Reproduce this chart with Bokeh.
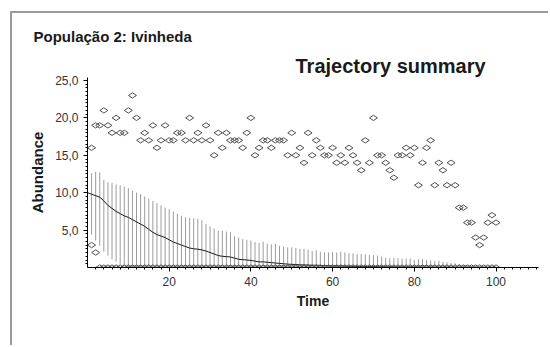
import numpy as np
from bokeh.plotting import figure
from bokeh.models import FixedTicker, Title, ColumnDataSource
from bokeh.embed import file_html
from bokeh.resources import INLINE

# ---------------- data ----------------
time_mean = list(range(0, 101))
mean_abundance = [
    10.0, 9.8, 9.6, 9.4, 8.9, 8.3, 7.9, 7.5, 7.2, 6.9,
    6.7, 6.4, 6.1, 5.8, 5.5, 5.1, 4.7, 4.4, 4.2, 4.0,
    3.7, 3.4, 3.2, 3.0, 2.8, 2.6, 2.5, 2.45, 2.35, 2.2,
    2.0, 1.8, 1.6, 1.5, 1.45, 1.4, 1.25, 1.1, 1.05, 1.0,
    0.95, 0.85, 0.75, 0.75, 0.7, 0.65, 0.6, 0.55, 0.5, 0.45,
    0.42, 0.4, 0.35, 0.35, 0.33, 0.3, 0.3, 0.28, 0.25, 0.22,
    0.22, 0.2, 0.2, 0.18, 0.17, 0.16, 0.15, 0.14, 0.13, 0.12,
    0.11, 0.1, 0.09, 0.08, 0.07, 0.07, 0.06, 0.06, 0.05, 0.05,
    0.04, 0.04, 0.03, 0.03, 0.03, 0.02, 0.02, 0.02, 0.02, 0.01,
    0.01, 0.01, 0.01, 0.01, 0.0, 0.0, 0.0, 0.0, 0.0, 0.0, 0.0,
]

time_steps = list(range(1, 101))
bar_upper = [
    12.6, 12.8, 12.7, 11.7, 11.4, 11.3, 11.1, 11.0, 10.8, 10.6,
    10.3, 10.0, 9.8, 9.5, 9.2, 8.9, 8.6, 8.3, 8.0, 7.8,
    7.5, 7.2, 6.9, 6.7, 6.6, 6.6, 6.5, 6.3, 5.8, 5.5,
    5.2, 4.9, 4.9, 4.8, 4.7, 4.2, 4.0, 3.8, 3.7, 3.6,
    3.4, 3.3, 3.45, 3.2, 3.1, 3.15, 2.9, 2.8, 2.7, 2.7,
    2.6, 2.5, 2.5, 2.4, 2.2, 2.3, 2.1, 2.0, 2.0, 2.1,
    2.0, 2.1, 2.0, 1.9, 1.9, 1.8, 1.8, 1.75, 1.7, 1.65,
    1.6, 1.45, 1.3, 1.25, 1.25, 1.25, 1.2, 1.2, 1.2, 1.0,
    1.1, 1.1, 1.0, 0.95, 0.9, 0.9, 0.75, 0.7, 0.6, 0.55,
    0.45, 0.3, 0.25, 0.2, 0.2, 0.15, 0.15, 0.1, 0.1, 0.05,
]
bar_lower = [
    4.4, 3.6, 2.9, 2.1, 1.6, 1.1, 0.8, 0.5, 0.2, 0.0,
    0.0, 0.0, 0.0, 0.0, 0.0, 0.0, 0.0, 0.0, 0.0, 0.0,
    0.0, 0.0, 0.0, 0.0, 0.0, 0.0, 0.0, 0.0, 0.0, 0.0,
    0.0, 0.0, 0.0, 0.0, 0.0, 0.0, 0.0, 0.0, 0.0, 0.0,
    0.0, 0.0, 0.0, 0.0, 0.0, 0.0, 0.0, 0.0, 0.0, 0.0,
    0.0, 0.0, 0.0, 0.0, 0.0, 0.0, 0.0, 0.0, 0.0, 0.0,
    0.0, 0.0, 0.0, 0.0, 0.0, 0.0, 0.0, 0.0, 0.0, 0.0,
    0.0, 0.0, 0.0, 0.0, 0.0, 0.0, 0.0, 0.0, 0.0, 0.0,
    0.0, 0.0, 0.0, 0.0, 0.0, 0.0, 0.0, 0.0, 0.0, 0.0,
    0.0, 0.0, 0.0, 0.0, 0.0, 0.0, 0.0, 0.0, 0.0, 0.0,
]
max_abundance = [
    16, 19, 19, 21, 19, 18, 20, 18, 18, 21,
    23, 20, 17, 18, 17, 19, 16, 17, 19, 17,
    17, 18, 18, 17, 20, 17, 18, 17, 19, 17,
    15, 18, 16, 18, 17, 17, 17, 16, 18, 20,
    15, 16, 17, 17, 16, 17, 17, 17, 15, 18,
    15, 16, 14, 18, 15, 17, 16, 15, 15, 16,
    14, 15, 14, 16, 15, 14, 13, 17, 14, 20,
    15, 15, 14, 13, 12, 15, 15, 16, 15, 16,
    11, 14, 16, 17, 11, 14, 13, 11, 14, 11,
    8, 8, 6, 6, 4, 3, 4, 6, 7, 6,
]
min_abundance = [
    3, 2, 0, 0, 0, 0, 0, 0, 0, 0,
    0, 0, 0, 0, 0, 0, 0, 0, 0, 0,
    0, 0, 0, 0, 0, 0, 0, 0, 0, 0,
    0, 0, 0, 0, 0, 0, 0, 0, 0, 0,
    0, 0, 0, 0, 0, 0, 0, 0, 0, 0,
    0, 0, 0, 0, 0, 0, 0, 0, 0, 0,
    0, 0, 0, 0, 0, 0, 0, 0, 0, 0,
    0, 0, 0, 0, 0, 0, 0, 0, 0, 0,
    0, 0, 0, 0, 0, 0, 0, 0, 0, 0,
    0, 0, 0, 0, 0, 0, 0, 0, 0, 0,
]

x_major_ticks = [20, 40, 60, 80, 100]
y_major_ticks = [5, 10, 15, 20, 25]
y_tick_labels = ["5,0", "10,0", "15,0", "20,0", "25,0"]

# ---------------- figure ----------------
p = figure(
    width=538, height=334,
    x_range=(0, 110.4), y_range=(0, 25.4),
    output_backend="svg", toolbar_location=None,
    min_border_left=75, min_border_right=12,
    min_border_top=64, min_border_bottom=80,
    title=None,
)
p.styles = {
    "margin-top": "11px", "margin-left": "10px",
    "border-top": "2px solid #9a9a9a", "border-left": "2px solid #9a9a9a",
}
p.outline_line_color = None
p.xgrid.visible = False
p.ygrid.visible = False
p.background_fill_color = "white"
p.border_fill_color = "white"

bars = ColumnDataSource(dict(t=time_steps, lo=bar_lower, hi=bar_upper))
p.segment(x0="t", y0="lo", x1="t", y1="hi", source=bars,
          line_color="#9c9c9c", line_width=1)
p.line(time_mean, mean_abundance, line_color="#1a1a1a", line_width=1)
p.scatter(time_steps, max_abundance, marker="diamond", size=8, angle=np.pi / 2,
          fill_alpha=0, line_color="#505050", line_width=1)
p.scatter(time_steps, min_abundance, marker="diamond", size=8, angle=np.pi / 2,
          fill_alpha=0, line_color="#505050", line_width=1)

# axes
xa = p.xaxis[0]
xa.ticker = FixedTicker(ticks=x_major_ticks, minor_ticks=list(range(2, 111, 2)))
xa.axis_label = "Time"
ya = p.yaxis[0]
ya.ticker = FixedTicker(ticks=y_major_ticks,
                        minor_ticks=[v / 2 for v in range(1, 51)])
ya.major_label_overrides = {float(k): s for k, s in zip(y_major_ticks, y_tick_labels)}
ya.axis_label = "Abundance"

for ax in (xa, ya):
    ax.axis_line_color = "black"
    ax.major_tick_line_color = "black"
    ax.minor_tick_line_color = "black"
    ax.major_tick_out = 4
    ax.major_tick_in = 0
    ax.minor_tick_out = 2
    ax.minor_tick_in = 0
    ax.major_label_text_font = "Liberation Sans"
    ax.major_label_text_font_size = "12px"
    ax.major_label_text_color = "#333333"
    ax.major_label_standoff = 5
    ax.axis_label_text_font = "Liberation Sans"
    ax.axis_label_text_font_style = "bold"
    ax.axis_label_text_color = "#1a1a1a"
xa.axis_label_standoff = 4
ya.axis_label_standoff = 6
xa.axis_label_text_font_size = "14px"
ya.axis_label_text_font_size = "15px"

# titles (first added sits nearest the plot area)
p.add_layout(Title(text="Trajectory summary", align="left", offset=208,
                   text_font="Liberation Sans", text_font_style="bold",
                   text_font_size="20px", text_color="#1a1a1a",
                   standoff=2), "above")
p.add_layout(Title(text="População 2: Ivinheda", align="left", offset=-54,
                   text_font="Liberation Sans", text_font_style="bold",
                   text_font_size="15px", text_color="#1a1a1a",
                   standoff=13), "above")

open("out.html", "w").write(file_html(p, INLINE))
